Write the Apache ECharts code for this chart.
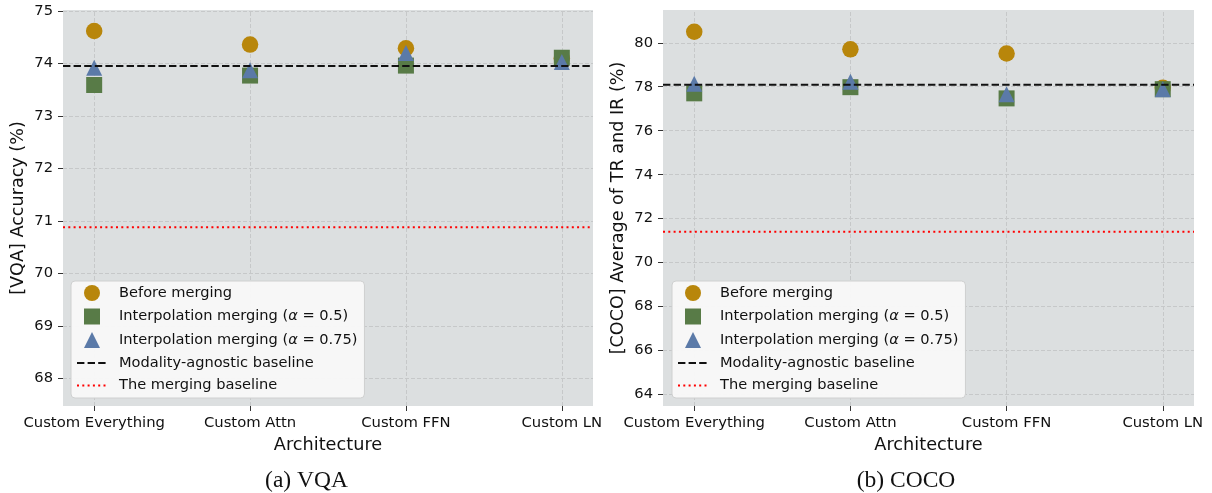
<!DOCTYPE html>
<html>
<head>
<meta charset="utf-8">
<script src="https://cdn.jsdelivr.net/npm/echarts@6/dist/echarts.min.js"></script>
<style>
html,body{margin:0;padding:0;background:#fff;}
#c{width:1212px;height:493px;}
</style>
</head>
<body>
<div id="c"></div>
<script>
const categories = ['Custom Everything', 'Custom Attn', 'Custom FFN', 'Custom LN'];

const vqaBefore   = [74.62, 74.36, 74.29, 74.10];
const vqaAlpha05  = [73.59, 73.77, 73.96, 74.11];
const vqaAlpha075 = [73.92, 73.87, 74.20, 74.03];
const vqaAgnostic = 73.95;
const vqaMerging  = 70.88;

const cocoBefore   = [80.50, 79.70, 79.51, 77.95];
const cocoAlpha05  = [77.70, 77.98, 77.47, 77.89];
const cocoAlpha075 = [78.14, 78.23, 77.66, 77.89];
const cocoAgnostic = 78.09;
const cocoMerging  = 71.41;

const vqaTicks  = [68, 69, 70, 71, 72, 73, 74, 75];
const cocoTicks = [64, 66, 68, 70, 72, 74, 76, 78, 80];
const xTicks = [0, 1, 2, 3];

const names = ['Before merging', 'Interpolation merging (α = 0.5)', 'Interpolation merging (α = 0.75)', 'Modality-agnostic baseline', 'The merging baseline'];

const X_MIN = -0.2, X_MAX = 3.2;
const FONT = 'DejaVu Sans';
const C_ORANGE = '#b8860b', C_GREEN = '#587b47', C_BLUE = '#5b7aa8';

const chart = echarts.init(document.getElementById('c'), null, {renderer: 'canvas'});

function pts(vals) { return vals.map((v, i) => [i, v]); }

const hiddenLine = {show: true, onZero: false, lineStyle: {color: 'rgba(0,0,0,0)', width: 0}};

function xAxisFor(gi) {
  return {
    type: 'value', gridIndex: gi, min: X_MIN, max: X_MAX,
    name: 'Architecture', nameLocation: 'middle', nameGap: 27,
    nameTextStyle: {fontFamily: FONT, fontSize: 17.7, color: '#111'},
    axisLine: hiddenLine,
    axisTick: {show: true, inside: false, length: 5, customValues: xTicks, lineStyle: {color: '#333', width: 1}},
    axisLabel: {customValues: xTicks, formatter: v => categories[v] || '', fontFamily: FONT, fontSize: 14.8, color: '#111', margin: 10},
    splitLine: {show: false}
  };
}
function yAxisFor(gi, min, max, ticks, name) {
  return {
    type: 'value', gridIndex: gi, min: min, max: max,
    name: name, nameLocation: 'middle', nameGap: 36,
    nameTextStyle: {fontFamily: FONT, fontSize: 17.6, color: '#111'},
    axisLine: hiddenLine,
    axisTick: {show: true, inside: false, length: 5, customValues: ticks, lineStyle: {color: '#333', width: 1}},
    axisLabel: {customValues: ticks, fontFamily: FONT, fontSize: 14.7, color: '#111', margin: 10},
    splitLine: {show: false}
  };
}

function seriesFor(gi, before, a05, a075, agn, mer, yTicks) {
  const common = {xAxisIndex: gi, yAxisIndex: gi};
  const grid = {
    ...common, type: 'line', name: 'grid' + gi, data: [], z: 1, silent: true,
    markLine: {
      z: 1, silent: true, symbol: ['none', 'none'], label: {show: false}, animation: false,
      lineStyle: {type: [4, 2], color: '#c6c8c9', width: 1},
      emphasis: {disabled: true},
      data: xTicks.map(v => ({xAxis: v})).concat(yTicks.map(v => ({yAxis: v})))
    }
  };
  return [
    grid,
    {...common, type: 'scatter', name: names[0], data: pts(before), symbol: 'circle', symbolSize: 16.5, itemStyle: {color: C_ORANGE, opacity: 1}, z: 3},
    {...common, type: 'scatter', name: names[1], data: pts(a05), symbol: 'rect', symbolSize: 16, itemStyle: {color: C_GREEN, opacity: 1}, z: 4},
    {...common, type: 'scatter', name: names[2], data: pts(a075), symbol: 'triangle', symbolSize: 16, itemStyle: {color: C_BLUE, opacity: 1}, z: 5},
    {...common, type: 'line', name: names[3], data: [[X_MIN, agn], [X_MAX, agn]], symbol: 'none', lineStyle: {color: '#111', width: 2, type: [7.4, 3.2]}, itemStyle: {color: '#111'}, z: 6},
    {...common, type: 'line', name: names[4], data: [[X_MIN, mer], [X_MAX, mer]], symbol: 'none', lineStyle: {color: '#ff0000', width: 2, type: [2, 3.3]}, itemStyle: {color: '#ff0000'}, z: 6}
  ];
}

function legendFor(left) {
  const hidden = {color: 'rgba(0,0,0,0)', opacity: 0, borderWidth: 0};
  return {
    z: 10,
    data: [
      {name: names[0], icon: 'circle'},
      {name: names[1], icon: 'path://M0,0L16,0L16,16L0,16Z'},
      {name: names[2], icon: 'path://M8,0L16,16L0,16Z'},
      {name: names[3], itemStyle: hidden},
      {name: names[4], itemStyle: hidden}
    ],
    orient: 'vertical', left: left, top: 281,
    itemWidth: 30, itemHeight: 16, itemGap: 7.5,
    symbolKeepAspect: true,
    padding: [4, 7, 5, 5],
    backgroundColor: 'rgba(248,248,248,0.96)', borderColor: '#cfd0d0', borderWidth: 1, borderRadius: 4,
    selectedMode: false,
    formatter: function (n) {
      const m = n.match(/^(.*\()α( = .*\))$/);
      if (m) return '{t|' + m[1] + '}{a|α}{t|' + m[2] + '}';
      return '{t|' + n + '}';
    },
    textStyle: {
      fontFamily: FONT, fontSize: 14.6, color: '#111', padding: [0, 0, 0, 7],
      rich: {
        t: {fontFamily: FONT, fontSize: 14.6, color: '#111'},
        a: {fontFamily: FONT, fontSize: 14.6, color: '#111', fontStyle: 'italic'}
      }
    }
  };
}

const option = {
  animation: false,
  backgroundColor: '#ffffff',
  grid: [
    {left: 63, top: 10, width: 530, height: 396, show: true, backgroundColor: '#dcdfe0', borderWidth: 0},
    {left: 663, top: 10, width: 531, height: 396, show: true, backgroundColor: '#dcdfe0', borderWidth: 0}
  ],
  xAxis: [xAxisFor(0), xAxisFor(1)],
  yAxis: [
    yAxisFor(0, 67.47, 75.02, vqaTicks, '[VQA] Accuracy (%)'),
    yAxisFor(1, 63.48, 81.49, cocoTicks, '[COCO] Average of TR and IR (%)')
  ],
  legend: [legendFor(71), legendFor(672)],
  series: [].concat(
    seriesFor(0, vqaBefore, vqaAlpha05, vqaAlpha075, vqaAgnostic, vqaMerging, vqaTicks),
    seriesFor(1, cocoBefore, cocoAlpha05, cocoAlpha075, cocoAgnostic, cocoMerging, cocoTicks)
  ),
  graphic: [
    {type: 'text', x: 306.5, y: 480.5, style: {text: '(a) VQA', font: '23.5px "Liberation Serif"', fill: '#111', align: 'center', verticalAlign: 'middle'}},
    {type: 'text', x: 906, y: 480.5, style: {text: '(b) COCO', font: '23.5px "Liberation Serif"', fill: '#111', align: 'center', verticalAlign: 'middle'}}
  ]
};
chart.setOption(option);
</script>
</body>
</html>
